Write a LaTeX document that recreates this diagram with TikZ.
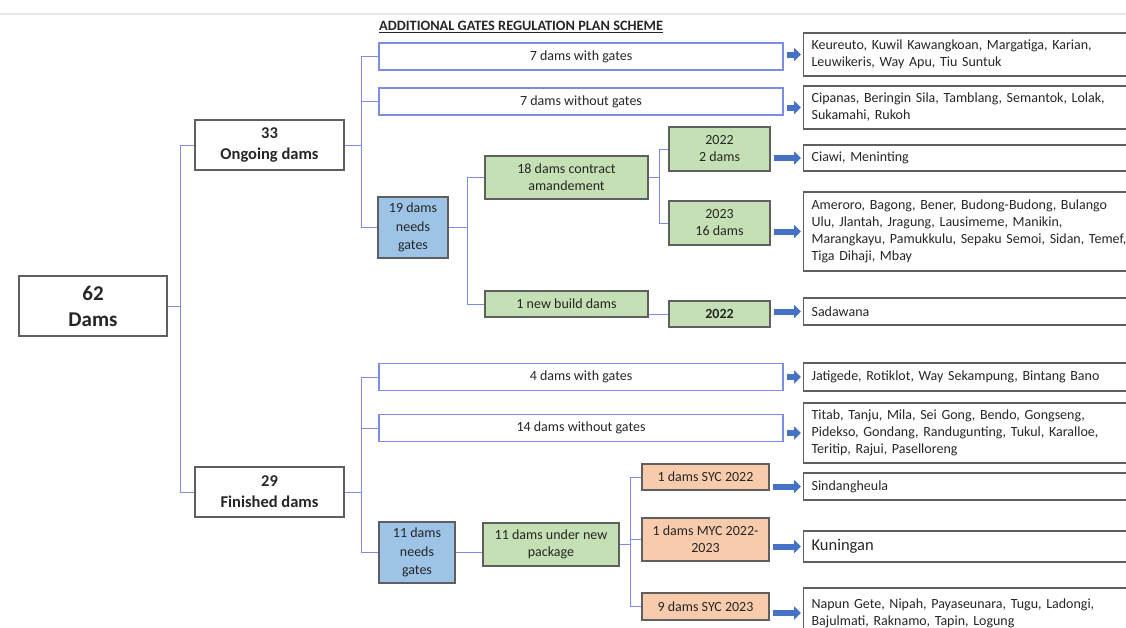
\documentclass[tikz,border=0pt]{standalone}
\usepackage{fontspec}
\setmainfont{Carlito}
\usepackage{tikz}
\usetikzlibrary{shapes,arrows,arrows.meta,positioning,calc}
\usepackage{xcolor}
\definecolor{linkblue}{RGB}{125,140,228}
\definecolor{arrowblue}{RGB}{68,114,196}
\definecolor{boxgray}{RGB}{95,95,95}
\definecolor{needblue}{RGB}{157,195,230}
\definecolor{amendgreen}{RGB}{197,224,180}
\definecolor{sycorange}{RGB}{248,203,173}
\definecolor{textgray}{RGB}{38,38,38}
\tikzset{
    total/.style={draw=boxgray, line width=1.2pt, rectangle, fill=white, minimum width=148pt, minimum height=60pt, align=center, font=\fontsize{21}{26}\selectfont\bfseries},
    status/.style={draw=boxgray, line width=1.2pt, rectangle, fill=white, minimum width=149pt, minimum height=50pt, align=center, font=\fontsize{16.5}{21}\selectfont\bfseries},
    branch/.style={draw=linkblue, line width=1.2pt, rectangle, minimum width=404pt, minimum height=27pt, align=center, font=\fontsize{14}{17}\selectfont},
    needsbox/.style={draw=boxgray, line width=1.2pt, rectangle, fill=needblue, minimum height=61pt, align=center, font=\fontsize{14}{18.5}\selectfont},
    greenbox/.style={draw=boxgray, line width=1.2pt, rectangle, fill=amendgreen, align=center, font=\fontsize{14}{17}\selectfont},
    orangebox/.style={draw=boxgray, line width=1.2pt, rectangle, fill=sycorange, minimum width=127pt, align=center, font=\fontsize{14}{17}\selectfont},
    damlist/.style={draw=boxgray, line width=1.2pt, rectangle, anchor=west, text width=320pt, inner xsep=8pt, align=left, font=\fontsize{14}{17}\selectfont},
    link/.style={linkblue, line width=1pt},
    arrow/.style={-{Triangle[length=7pt,width=13pt]}, line width=6pt, arrowblue, shorten <=3pt, shorten >=2pt}
}

\begin{document}
\begin{tikzpicture}[x=1pt, y=-1pt, text=textgray]
        \useasboundingbox (0,0) rectangle (1126,627);
        \clip (0,0) rectangle (1126,627);
        \draw[black!10, line width=1.5pt] (0,14) -- (1126,14);

        % Title
        \node[anchor=west, inner sep=0pt, font=\fontsize{14.3}{16}\selectfont\bfseries] (title) at (379,27) {\underline{ADDITIONAL GATES REGULATION PLAN SCHEME}};

        % Total and status
        \node[total] (dams62) at (93,306) {62\\Dams};
        \node[status] (ongoing) at (269.5,145) {33\\Ongoing dams};
        \node[status] (finished) at (269.5,492) {29\\Finished dams};

        % Ongoing branch
        \node[branch] (with7) at (581,56.5) {7 dams with gates};
        \node[branch] (without7) at (581,101.5) {7 dams without gates};
        \node[needsbox, minimum width=70pt] (needs19) at (413,227.5) {19 dams\\needs\\gates};
        \node[greenbox, minimum width=163pt, minimum height=43pt] (contract18) at (566.5,177.5) {18 dams contract\\amandement};
        \node[greenbox, minimum width=163pt, minimum height=26pt] (newbuild1) at (566.5,304) {1 new build dams};
        \node[greenbox, minimum width=101pt, minimum height=44pt] (y2022a) at (719.5,149) {2022\\2 dams};
        \node[greenbox, minimum width=101pt, minimum height=44pt] (y2023) at (719.5,223) {2023\\16 dams};
        \node[greenbox, minimum width=101pt, minimum height=26pt, font=\fontsize{14}{17}\selectfont\bfseries] (y2022b) at (719.5,314) {2022};

        % Finished branch
        \node[branch] (with4) at (581,377) {4 dams with gates};
        \node[branch] (without14) at (581,428) {14 dams without gates};
        \node[needsbox, minimum width=76pt] (needs11) at (417,552.5) {11 dams\\needs\\gates};
        \node[greenbox, minimum width=136pt, minimum height=43pt] (package11) at (551,544.5) {11 dams under new\\package};
        \node[orangebox, minimum height=26pt] (syc22) at (705.5,477) {1 dams SYC 2022};
        \node[orangebox, minimum height=43pt] (myc) at (705.5,539.5) {1 dams MYC 2022-\\2023};
        \node[orangebox, minimum height=27pt] (syc23) at (705.5,606.5) {9 dams SYC 2023};

        % Dam lists
        \node[damlist, minimum height=43pt] (listA) at (803,54.5) {Keureuto, Kuwil Kawangkoan, Margatiga, Karian,\\Leuwikeris, Way Apu, Tiu Suntuk};
        \node[damlist, minimum height=43pt] (listB) at (803,107.5) {Cipanas, Beringin Sila, Tamblang, Semantok, Lolak,\\Sukamahi, Rukoh};
        \node[damlist, minimum height=26pt] (listC) at (803,158) {Ciawi, Meninting};
        \node[damlist, minimum height=79pt] (listD) at (803,231.5) {Ameroro, Bagong, Bener, Budong-Budong, Bulango\\Ulu, Jlantah, Jragung, Lausimeme, Manikin,\\Marangkayu, Pamukkulu, Sepaku Semoi, Sidan, Temef,\\Tiga Dihaji, Mbay};
        \node[damlist, minimum height=27pt] (listE) at (803,311.5) {Sadawana};
        \node[damlist, minimum height=28pt] (listF) at (803,377) {Jatigede, Rotiklot, Way Sekampung, Bintang Bano};
        \node[damlist, minimum height=60pt] (listG) at (803,433) {Titab, Tanju, Mila, Sei Gong, Bendo, Gongseng,\\Pidekso, Gondang, Randugunting, Tukul, Karalloe,\\Teritip, Rajui, Paselloreng};
        \node[damlist, minimum height=27pt] (listH) at (803,486.5) {Sindangheula};
        \node[damlist, minimum height=31pt, font=\fontsize{16.5}{19}\selectfont] (listI) at (803,546.5) {Kuningan};
        \node[damlist, minimum height=50pt] (listJ) at (803,613) {Napun Gete, Nipah, Payaseunara, Tugu, Ladongi,\\Bajulmati, Raknamo, Tapin, Logung};

        % Tree connectors
        \draw[link] (dams62.east) -- ++(13,0) |- (ongoing.west);
        \draw[link] (dams62.east) -- ++(13,0) |- (finished.west);
        \draw[link] (ongoing.east) -- ++(17,0) |- (with7.west);
        \draw[link] (ongoing.east) -- ++(17,0) |- (without7.west);
        \draw[link] (ongoing.east) -- ++(17,0) |- (needs19.west);
        \draw[link] (needs19.east) -- ++(19,0) |- (contract18.west);
        \draw[link] (needs19.east) -- ++(19,0) |- (newbuild1.west);
        \draw[link] (contract18.east) -- ++(11,0) |- (y2022a.west);
        \draw[link] (contract18.east) -- ++(11,0) |- (y2023.west);
        \draw[link] (newbuild1.east |- y2022b.west) -- (y2022b.west);
        \draw[link] (finished.east) -- ++(17,0) |- (with4.west);
        \draw[link] (finished.east) -- ++(17,0) |- (without14.west);
        \draw[link] (finished.east) -- ++(17,0) |- (needs11.west);
        \draw[link] (needs11.east) -- (needs11.east -| package11.west);
        \draw[link] (package11.east) -- ++(11,0) |- (syc22.west);
        \draw[link] (package11.east) -- ++(11,0) |- (myc.west);
        \draw[link] (package11.east) -- ++(11,0) |- (syc23.west);

        % Arrows to dam lists
        \draw[arrow] (with7.east |- listA.west) -- (listA.west);
        \draw[arrow] (without7.east |- listB.west) -- (listB.west);
        \draw[arrow] (y2022a.east |- listC.west) -- (listC.west);
        \draw[arrow] (y2023.east |- listD.west) -- (listD.west);
        \draw[arrow] (y2022b.east |- listE.west) -- (listE.west);
        \draw[arrow] (with4.east |- listF.west) -- (listF.west);
        \draw[arrow] (without14.east |- listG.west) -- (listG.west);
        \draw[arrow] (syc22.east |- listH.west) -- (listH.west);
        \draw[arrow] (myc.east |- listI.west) -- (listI.west);
        \draw[arrow] (syc23.east |- listJ.west) -- (listJ.west);
    \end{tikzpicture}
\end{document}
